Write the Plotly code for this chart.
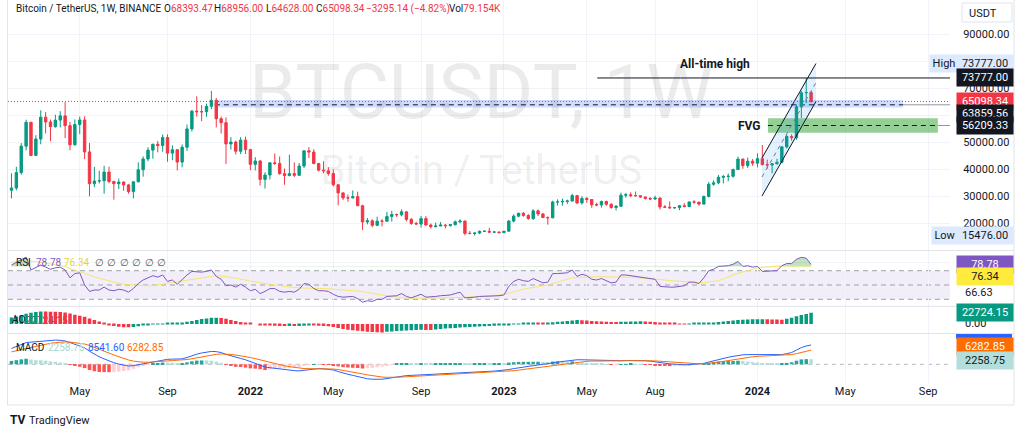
import pandas as pd
import plotly.graph_objects as go

W, H = 1024, 434

# ---------------- data (weekly BTCUSDT, week starts) ----------------
start_week = "2021-01-25"
first_open = 32259.0
closes = [33092, 38795, 48577, 57408, 45135, 51206, 59302, 57523, 55776, 58200,
          59770, 56150, 49066, 56578, 58250, 46430, 34700, 35680, 35800, 39000,
          35500, 34700, 35290, 34250, 31780, 35400, 39850, 43830, 47100, 49300,
          48800, 51750, 46000, 47250, 42700, 48200, 54950, 61500, 61300, 61300,
          63300, 65500, 58700, 57250, 49400, 50100, 46700, 50800, 47300, 41850,
          43080, 36280, 37900, 42400, 42200, 38400, 37700, 38400, 37800, 41250,
          46850, 46400, 42150, 39700, 39450, 38450, 34300, 31300, 29450, 29450,
          29900, 26550, 20550, 21000, 19300, 20850, 20800, 22600, 23300, 23200,
          24300, 21500, 20000, 19800, 21800, 19400, 18800, 19050, 19400, 19200,
          19550, 20600, 20900, 16350, 16280, 16450, 17100, 17100, 16800, 16850,
          16600, 17130, 20880, 22700, 23750, 22950, 21800, 24650, 23500, 22200,
          22100, 27950, 27950, 28150, 28300, 30300, 27600, 29250, 28850, 26900,
          26850, 28100, 27100, 25900, 26350, 30450, 30600, 30300, 30250, 29800,
          29250, 29050, 29400, 26100, 26000, 25800, 25850, 26550, 26250, 27950,
          27900, 27150, 29950, 34500, 35000, 37050, 37350, 37450, 39950, 43800,
          41350, 43000, 42280, 43950, 41750, 41600, 42050, 42600, 48300, 52150,
          51700, 63100, 68300, 68393.47, 65098.34]
highs = [38531, 40955, 49707, 58352, 57533, 52640, 61844, 61180, 58402, 60200,
         61500, 64854, 57520, 58458, 59500, 59600, 49780, 40900, 39480, 41330,
         41000, 35800, 36600, 35600, 34600, 35400, 42600, 44800, 48150, 49400,
         50500, 52900, 52950, 48850, 47350, 49200, 56600, 62000, 67000, 63700,
         64300, 69000, 66400, 59500, 59200, 51900, 50600, 51900, 52100, 47550,
         44500, 43500, 38900, 42650, 45850, 44750, 40300, 45400, 42600, 42350,
         46900, 48200, 47450, 42400, 42950, 40800, 40000, 34500, 31500, 30650,
         32200, 31750, 26900, 22000, 21550, 22500, 21600, 24250, 24650, 23650,
         25200, 24450, 22000, 20600, 22800, 22700, 19950, 20350, 20500, 19700,
         19700, 21100, 21500, 21000, 17200, 16800, 17400, 17400, 18400, 17000,
         16950, 17200, 21300, 23350, 23950, 24250, 23450, 25250, 25150, 23900,
         22600, 28400, 28900, 29200, 28800, 31000, 30450, 30050, 29800, 28900,
         27650, 28450, 28450, 27450, 26800, 31400, 31300, 31500, 31800, 30350,
         29800, 29750, 30250, 29650, 26800, 28150, 26100, 26850, 27500, 28050,
         28600, 27950, 30350, 35300, 35950, 37950, 38000, 38450, 40250, 44700,
         43900, 44350, 43800, 45900, 48950, 43600, 42200, 43900, 48600, 52800,
         52950, 64000, 69000, 73777, 68956]
lows = [29241, 32296, 37988, 47003, 44892, 45000, 49274, 53271, 50427, 55400,
        55473, 51541, 47044, 48800, 53000, 43825, 30000, 33400, 34800, 31000,
        34800, 28800, 32700, 32100, 31000, 29280, 35200, 37300, 43000, 43950,
        46300, 46500, 42800, 43400, 39600, 40750, 46900, 54000, 59500, 57800,
        59400, 62300, 55500, 53250, 42000, 47300, 45500, 45600, 45650, 39650,
        39600, 34000, 32900, 36250, 41650, 38000, 34300, 37450, 37150, 37550,
        40500, 44200, 41850, 39200, 38550, 37700, 33700, 26700, 28650, 28000,
        29300, 26500, 17600, 19650, 18600, 19000, 18900, 20750, 20700, 22400,
        22650, 20750, 19500, 19550, 18500, 19300, 18150, 18550, 19000, 18200,
        18850, 19250, 20050, 15600, 16000, 15500, 16000, 16900, 16550, 16400,
        16350, 16550, 17100, 20400, 22300, 22500, 21350, 21350, 22750, 21950,
        19550, 21900, 26600, 26550, 27200, 28200, 27150, 26950, 27650, 25800,
        26350, 25850, 26500, 25400, 24800, 26250, 29500, 29700, 29950, 29500,
        28850, 28600, 28700, 25150, 25800, 25350, 25350, 24900, 26000, 26000,
        27250, 26550, 27100, 29650, 33950, 34500, 34800, 35600, 36900, 39950,
        40200, 40550, 41300, 40750, 41500, 40300, 38550, 41800, 42250, 47700,
        50600, 50900, 59000, 64500, 64628]

rsi = [78, 82, 86, 89, 71, 75, 78, 75, 72, 74,
       75, 71, 60, 66, 67, 50, 41, 43, 43, 47,
       43, 42, 44, 43, 40, 45, 52, 57, 60, 63,
       61, 64, 55, 57, 51, 58, 64, 69, 68, 68,
       69, 71, 62, 58, 49, 50, 47, 51, 47, 42,
       44, 38, 41, 45, 45, 41, 40, 41, 40, 44,
       52, 51, 45, 42, 42, 41, 37, 34, 33, 33,
       34, 31, 26, 28, 27, 30, 30, 34, 35, 35,
       38, 34, 32, 35, 37, 33, 33, 34, 35, 35,
       36, 38, 40, 32, 32, 33, 34, 34, 34, 35,
       35, 36, 48, 55, 58, 56, 55, 59, 56, 53,
       54, 66, 66, 67, 67, 71, 62, 65, 63, 58,
       57, 59, 56, 53, 54, 64, 64, 63, 62, 61,
       59, 58, 58, 48, 47, 47, 47, 48, 49, 54,
       54, 52, 60, 70, 72, 76, 76, 77, 79, 83,
       76, 77, 75, 76, 69, 69, 69, 70, 77, 80,
       80, 86, 88.7, 87.5, 78.78]
rsi_ma = [82, 82.5, 83, 83.5, 83.5, 83, 82, 81, 80, 79,
          78, 76, 73, 70.5, 68.6, 66, 63.5, 61.5, 59.4, 57.5,
          55.5, 54, 52.5, 51, 50.5, 50, 49, 48.6, 48.8, 49.5,
          50, 51, 52.4, 53.5, 54.5, 55.5, 56.5, 58, 59, 60,
          61.5, 62.6, 63, 62.5, 62, 60.8, 59.5, 58, 56.5, 55,
          54, 53, 52, 51, 50, 49, 47.6, 47, 46.5, 46,
          46, 45.6, 45.4, 45.2, 45, 44.7, 44.2, 43.8, 43.5, 43.2,
          43, 42, 41, 39.5, 38, 37, 36, 35, 34, 33,
          32.2, 31.8, 31.4, 31.4, 31.5, 31.6, 31.7, 31.8, 31.9, 32,
          32.2, 32.4, 32.6, 32.8, 33, 33.2, 33.6, 34, 34.5, 35,
          36, 37, 38.5, 40.5, 42.5, 44, 45.4, 46.5, 47.8, 49,
          50, 52, 54, 56, 58, 60, 60.5, 61, 61.3, 61.5,
          61.6, 61.6, 61.6, 61.6, 61.6, 61.6, 61.2, 60.8, 60.4, 60,
          59.4, 58.8, 58.2, 57.5, 57, 56.2, 55.6, 55, 54.5, 54,
          53.6, 53.2, 53.5, 54, 54.6, 56, 58.5, 61.6, 64, 66.5,
          68.5, 70, 72, 73.5, 74.7, 75.3, 75.8, 76.2, 76.6, 76.6,
          76.5, 76.5, 76.4, 76.4, 76.34]

ao = [13000, 15000, 17500, 21000, 23000, 24500, 25500, 25300, 25000, 24600,
      24200, 23500, 21500, 18500, 16500, 14500, 11000, 8000, 5000, 1500,
      -2000, -4000, -5500, -6500, -6700, -6200, -4500, -3000, -1500, -500,
      200, 600, 1200, 2000, 2500, 3000, 4500, 6000, 8000, 10000,
      11400, 12500, 12700, 12000, 10500, 8000, 6000, 4000, 2500, 1000,
      0, -1500, -2500, -3000, -3500, -3800, -4200, -4000, -4200, -4000,
      -3500, -3000, -3200, -3500, -3800, -4300, -6000, -8000, -10000, -11500,
      -12500, -13500, -14800, -15500, -16000, -16800, -16900, -15800, -15000, -14300,
      -13600, -13000, -12500, -12000, -11600, -11900, -12100, -11000, -10000, -9200,
      -8500, -7800, -7200, -6700, -6200, -5700, -5200, -4700, -4200, -3700,
      -3200, -2600, -1800, -800, 400, 1500, 2300, 3000, 2600, 2400,
      3000, 3800, 4500, 5300, 6200, 7200, 8000, 7600, 7000, 6300,
      5700, 5200, 4800, 4300, 4100, 4400, 4800, 5100, 5300, 5400,
      5200, 4600, 4000, 3000, 2000, 1300, 900, 600, 500, 700,
      900, 1100, 1500, 2200, 3000, 4000, 5000, 6000, 7000, 8000,
      8800, 9300, 9600, 9800, 9900, 9600, 9200, 9000, 8900, 10500,
      12500, 15500, 18000, 20500, 22724.15]

macd = [7000, 7800, 8700, 9600, 9800, 10000, 10400, 10600, 10600, 10700,
        10600, 10300, 9600, 8900, 8300, 7300, 5800, 4500, 3300, 2400,
        1500, 700, 100, -400, -750, -600, -200, 300, 800, 1300,
        1700, 2100, 2200, 2300, 2200, 2400, 3000, 3800, 4500, 5000,
        5400, 5700, 5600, 5200, 4400, 3700, 3000, 2600, 2000, 1200,
        600, -200, -1200, -1500, -1800, -2100, -2400, -2600, -2800, -2900,
        -2600, -2200, -1900, -1900, -2000, -2200, -2500, -3200, -3900, -4400,
        -4900, -5400, -6100, -6400, -6600, -6700, -6600, -6300, -5900, -5600,
        -5200, -5000, -4900, -4800, -4600, -4600, -4600, -4500, -4400, -4300,
        -4100, -3900, -3700, -3700, -3700, -3600, -3500, -3300, -3200, -3000,
        -2800, -2700, -2300, -1900, -1500, -1200, -900, -600, -300, -100,
        100, 600, 1000, 1300, 1600, 2000, 2000, 2000, 1950, 1850,
        1750, 1700, 1600, 1500, 1500, 1600, 1700, 1750, 1750, 1700,
        1600, 1400, 1200, 800, 500, 200, 0, -150, -200, -150,
        -50, 100, 400, 1000, 1600, 2200, 2700, 3100, 3500, 4000,
        4200, 4300, 4300, 4300, 4200, 4100, 4000, 4000, 4300, 4700,
        5200, 6300, 7400, 8100, 8541.60]
signal = [5500, 5960, 6508, 7126, 7661, 8129, 8583, 8986, 9309, 9587,
          9790, 9892, 9834, 9647, 9378, 8962, 8330, 7564, 6711, 5849,
          4979, 4123, 3318, 2574, 1909, 1407, 1086, 929, 903, 982,
          1126, 1321, 1497, 1658, 1766, 1893, 2114, 2451, 2861, 3289,
          3711, 4109, 4407, 4566, 4533, 4366, 4093, 3794, 3435, 2988,
          2510, 1968, 1334, 767, 254, -217, -654, -1043, -1394, -1695,
          -1876, -1941, -1933, -1926, -1941, -1993, -2094, -2315, -2632, -2986,
          -3369, -3775, -4240, -4672, -5058, -5386, -5629, -5763, -5790, -5752,
          -5642, -5514, -5391, -5273, -5138, -5030, -4944, -4855, -4764, -4671,
          -4557, -4426, -4281, -4165, -4072, -3978, -3882, -3766, -3653, -3522,
          -3378, -3242, -3054, -2823, -2558, -2286, -2009, -1727, -1442, -1174,
          -919, -615, -292, 26, 341, 673, 938, 1150, 1310, 1418,
          1484, 1527, 1542, 1534, 1527, 1542, 1574, 1609, 1637, 1650,
          1640, 1592, 1514, 1371, 1197, 998, 798, 608, 446, 327,
          252, 222, 258, 406, 645, 956, 1305, 1664, 2031, 2425,
          2780, 3084, 3327, 3522, 3658, 3746, 3797, 3838, 3930, 4084,
          4307, 4706, 5245, 5816, 6282.85]

tick_dates = ["2021-05-03", "2021-09-06", "2022-01-03", "2022-05-02", "2022-09-05",
              "2023-01-02", "2023-05-01", "2023-08-07", "2024-01-01", "2024-05-06",
              "2024-09-02"]
tick_labels = ["May", "Sep", "<b>2022</b>", "May", "Sep", "<b>2023</b>", "May", "Aug",
               "<b>2024</b>", "May", "Sep"]
price_ticks = [20000, 30000, 40000, 50000, 60000, 70000, 80000, 90000]
price_tick_text = ["20000.00", "30000.00", "40000.00", "50000.00", "", "70000.00", "", "90000.00"]

# ---------------- derived ----------------
dates = pd.date_range(start_week, periods=len(closes), freq="7D")
opens = [first_open] + closes[:-1]
hist = [m - s for m, s in zip(macd, signal)]
UP, DN = "#089981", "#F23645"
ao_colors = [UP if i == 0 or ao[i] >= ao[i - 1] else DN for i in range(len(ao))]
hist_colors = []
for i, h in enumerate(hist):
    prev = hist[i - 1] if i else h
    if h >= 0:
        hist_colors.append("#26A69A" if h >= prev else "#B2DFDB")
    else:
        hist_colors.append("#FFCDD2" if h >= prev else "#FF5252")
rsi_top = [max(v, 76) for v in rsi]

FONT = "Roboto"
TXT = "#131722"
GRID = "#f0f3fa"

x_range = ["2021-01-20", "2024-10-03 10:00"]
XD0, XD1 = 8 / W, 950 / W


def pdy(ypx):
    return 1 - ypx / H


fig = go.Figure()

# channel drawing (behind candles)
ch_x = ["2024-01-07 12:00", "2024-03-25", "2024-03-25", "2024-01-07 12:00", "2024-01-07 12:00"]
ch_y = [30150, 65080, 79130, 44200, 30150]
fig.add_trace(go.Scatter(x=ch_x, y=ch_y, mode="lines", fill="toself",
                         fillcolor="rgba(33,150,243,0.13)", line=dict(width=0),
                         hoverinfo="skip", showlegend=False, xaxis="x", yaxis="y"))
fig.add_trace(go.Scatter(x=["2024-01-07 12:00", "2024-03-25"], y=[30150, 65080], mode="lines",
                         line=dict(color=TXT, width=1), showlegend=False, xaxis="x", yaxis="y"))
fig.add_trace(go.Scatter(x=["2024-01-07 12:00", "2024-03-25"], y=[44200, 79130], mode="lines",
                         line=dict(color=TXT, width=1), showlegend=False, xaxis="x", yaxis="y"))
fig.add_trace(go.Scatter(x=["2024-01-07 12:00", "2024-03-25"], y=[37170, 72100], mode="lines",
                         line=dict(color="#787b86", width=1, dash="4px,4px"), showlegend=False,
                         xaxis="x", yaxis="y"))

fig.add_trace(go.Candlestick(
    x=dates, open=opens, high=highs, low=lows, close=closes,
    increasing=dict(line=dict(color=UP, width=1), fillcolor=UP),
    decreasing=dict(line=dict(color=DN, width=1), fillcolor=DN),
    whiskerwidth=0, showlegend=False, xaxis="x", yaxis="y"))

# RSI pane
fig.add_trace(go.Scatter(x=dates, y=[76] * len(rsi), mode="lines", line=dict(width=0),
                         showlegend=False, hoverinfo="skip", xaxis="x", yaxis="y2"))
fig.add_trace(go.Scatter(x=dates, y=rsi_top, mode="lines", line=dict(width=0), fill="tonexty",
                         fillcolor="rgba(76,175,80,0.35)", showlegend=False, hoverinfo="skip",
                         xaxis="x", yaxis="y2"))
fig.add_trace(go.Scatter(x=dates, y=rsi_ma, mode="lines", line=dict(color="#F7E56B", width=1),
                         showlegend=False, xaxis="x", yaxis="y2"))
fig.add_trace(go.Scatter(x=dates, y=rsi, mode="lines", line=dict(color="#7E57C2", width=1),
                         showlegend=False, xaxis="x", yaxis="y2"))

# AO pane
fig.add_trace(go.Bar(x=dates, y=ao, marker=dict(color=ao_colors, line=dict(width=0)),
                     showlegend=False, xaxis="x", yaxis="y3"))

# MACD pane
fig.add_trace(go.Bar(x=dates, y=hist, marker=dict(color=hist_colors, line=dict(width=0)),
                     showlegend=False, xaxis="x", yaxis="y4"))
fig.add_trace(go.Scatter(x=dates, y=macd, mode="lines", line=dict(color="#2962FF", width=1),
                         showlegend=False, xaxis="x", yaxis="y4"))
fig.add_trace(go.Scatter(x=dates, y=signal, mode="lines", line=dict(color="#FF6D00", width=1),
                         showlegend=False, xaxis="x", yaxis="y4"))

shapes = []
# watermark
shapes.append(dict(type="rect", xref="x", yref="y", x0="2022-08-01", x1="2023-04-01", y0=62000, y1=79000,
                   line=dict(width=0), fillcolor="rgba(0,0,0,0)", layer="between",
                   label=dict(text="BTCUSDT, 1W", textposition="middle center",
                              font=dict(family=FONT, size=76, color="rgba(19,23,34,0.085)"))))
shapes.append(dict(type="rect", xref="x", yref="y", x0="2022-08-01", x1="2023-04-01", y0=36000, y1=45000,
                   line=dict(width=0), fillcolor="rgba(0,0,0,0)", layer="between",
                   label=dict(text="Bitcoin / TetherUS", textposition="middle center",
                              font=dict(family=FONT, size=40, color="rgba(19,23,34,0.085)"))))
# drawings
shapes.append(dict(type="rect", xref="x", yref="y", x0="2021-11-13", x1="2024-07-28", y0=62900, y1=65600,
                   fillcolor="rgba(41,98,255,0.22)", line=dict(width=0), layer="between"))
shapes.append(dict(type="line", xref="x", yref="y", x0="2021-11-13", x1="2024-07-28", y0=63859.56, y1=63859.56,
                   line=dict(color=TXT, width=1, dash="5px,4px"), layer="between"))
shapes.append(dict(type="line", xref="x", yref="y", x0="2024-07-28", x1=x_range[1], y0=63859.56, y1=63859.56,
                   line=dict(color="#9598a1", width=1), layer="between"))
shapes.append(dict(type="rect", xref="x", yref="y", x0="2024-01-16", x1="2024-09-16", y0=53550, y1=58870,
                   fillcolor="rgba(76,175,80,0.6)", line=dict(width=0), layer="between"))
shapes.append(dict(type="line", xref="x", yref="y", x0="2024-01-16", x1="2024-09-16", y0=56209.33, y1=56209.33,
                   line=dict(color=TXT, width=1, dash="5px,4px"), layer="between"))
shapes.append(dict(type="line", xref="x", yref="y", x0="2024-09-16", x1=x_range[1], y0=56209.33, y1=56209.33,
                   line=dict(color="#9598a1", width=1), layer="between"))
shapes.append(dict(type="line", xref="x", yref="y", x0="2023-05-16", x1=x_range[1], y0=73777, y1=73777,
                   line=dict(color=TXT, width=1)))
shapes.append(dict(type="line", xref="paper", yref="y", x0=XD0, x1=XD1, y0=closes[-1], y1=closes[-1],
                   line=dict(color=DN, width=1, dash="1px,2px")))
# RSI band and levels
shapes.append(dict(type="rect", xref="paper", yref="y2", x0=XD0, x1=XD1, y0=30, y1=70,
                   fillcolor="rgba(126,87,194,0.1)", line=dict(width=0), layer="below"))
for lv in (70, 50, 30):
    shapes.append(dict(type="line", xref="paper", yref="y2", x0=XD0, x1=XD1, y0=lv, y1=lv,
                       line=dict(color="#9ea1a9", width=1, dash="5px,4px"), layer="below"))
shapes.append(dict(type="line", xref="paper", yref="y4", x0=XD0, x1=XD1, y0=0, y1=0,
                   line=dict(color="#b8bbc2", width=1, dash="4px,4px"), layer="below"))
# AO legend value (behind bars)
shapes.append(dict(type="rect", xref="x", yref="y3", x0="2021-02-20", x1="2021-04-10", y0=6000, y1=14000,
                   line=dict(width=0), fillcolor="rgba(0,0,0,0)", layer="between",
                   label=dict(text="22724.15", textposition="middle center",
                              font=dict(family=FONT, size=10, color="#8a1c26"))))
# pane separators & borders
for ypx in (250.5, 306.3, 333.5):
    shapes.append(dict(type="line", xref="paper", yref="paper", x0=7.5 / W, x1=1014 / W,
                       y0=pdy(ypx), y1=pdy(ypx), line=dict(color="#e0e3eb", width=1)))
shapes.append(dict(type="line", xref="paper", yref="paper", x0=7.5 / W, x1=7.5 / W, y0=pdy(0), y1=pdy(405),
                   line=dict(color="#e0e3eb", width=1)))
shapes.append(dict(type="line", xref="paper", yref="paper", x0=1014 / W, x1=1014 / W, y0=pdy(0), y1=pdy(405),
                   line=dict(color="#e0e3eb", width=1)))
shapes.append(dict(type="line", xref="paper", yref="paper", x0=7.5 / W, x1=1014 / W, y0=pdy(405), y1=pdy(405),
                   line=dict(color="#e0e3eb", width=1)))
# USDT box
shapes.append(dict(type="rect", xref="paper", yref="paper", x0=962 / W, x1=1012 / W, y0=pdy(22), y1=pdy(3),
                   line=dict(color="#e0e3eb", width=1), fillcolor="white"))
# cut MACD badge at top of pane
shapes.append(dict(type="rect", xref="paper", yref="paper", x0=956 / W, x1=1012 / W, y0=pdy(339), y1=pdy(334),
                   line=dict(width=0), fillcolor="#2962FF"))

ann = []


def badge(text, yval, yref, bg, fg="#ffffff", yshift=0, x0px=956, wpx=52):
    ann.append(dict(text=text, x=x0px / W, xref="paper", xanchor="left", y=yval, yref=yref,
                    yanchor="middle", yshift=yshift, showarrow=False, bgcolor=bg, width=wpx,
                    borderpad=2, align="center", font=dict(family=FONT, size=11, color=fg)))


def label(text, xpx, ypx, size=11, color=TXT, anchor="left"):
    ann.append(dict(text=text, x=xpx / W, y=pdy(ypx), xref="paper", yref="paper", xanchor=anchor,
                    yanchor="middle", showarrow=False, font=dict(family=FONT, size=size, color=color)))


LB = "#dde9fc"
label("66.63", 963, 292)
label("0.00", 963, 323)
badge("High", 73777, "y", LB, TXT, yshift=14, x0px=929, wpx=24)
badge("73777.00", 73777, "y", LB, TXT, yshift=14)
badge("73777.00", 73777, "y", "#131722")
badge("65098.34", closes[-1], "y", DN)
badge("63859.56", 63859.56, "y", "#131722", yshift=-9)
badge("56209.33", 56209.33, "y", "#131722")
badge("Low", 15476, "y", LB, TXT, x0px=931, wpx=22)
badge("15476.00", 15476, "y", LB, TXT)
badge(f"{rsi[-1]:.2f}", rsi[-1], "y2", "#7E57C2")
badge(f"{rsi_ma[-1]:.2f}", rsi_ma[-1], "y2", "#FFEB3B", TXT, yshift=-10)
badge(f"{ao[-1]:.2f}", ao[-1], "y3", UP)
badge(f"{signal[-1]:.2f}", signal[-1], "y4", "#FF6D00", yshift=4)
badge(f"{hist[-1]:.2f}", hist[-1], "y4", "#B2DFDB", TXT, yshift=-1.5)
label("USDT", 967, 13)

# header
RED = DN
label("Bitcoin / TetherUS, 1W, BINANCE", 14, 9, size=10)
label(f"O<span style='color:{RED}'>68393.47</span>", 162, 9, size=10)
label(f"H<span style='color:{RED}'>68956.00</span>", 212, 9, size=10)
label(f"L<span style='color:{RED}'>64628.00</span>", 264, 9, size=10)
label(f"C<span style='color:{RED}'>65098.34</span>", 314, 9, size=10)
label("−3295.14 (−4.82%)", 364, 9, size=10, color=RED)
label(f"Vol<span style='color:{RED}'>79.154K</span>", 447, 9, size=10)

# pane legends
label("RSI", 14, 262, size=10)
label(f"{rsi[-1]:.2f}", 34, 262, size=10, color="#7E57C2")
label(f"{rsi_ma[-1]:.2f}", 62, 262, size=10, color="#E8D43A")
for k in range(6):
    label("∅", 93 + k * 12.4, 262, size=10, color="#555a66")
label("AO", 10, 319, size=10)
label("MACD", 14, 347, size=10)
label(f"{hist[-1]:.2f}", 46, 347, size=10, color="#A5D6D0")
label(f"{macd[-1]:.2f}", 86, 347, size=10, color="#2962FF")
label(f"{signal[-1]:.2f}", 125, 347, size=10, color="#FF6D00")

# drawing texts
ann.append(dict(text="<b>All-time high</b>", x="2023-11-01", y=78950, xref="x", yref="y", showarrow=False,
                font=dict(family=FONT, size=12, color=TXT)))
ann.append(dict(text="<b>FVG</b>", x="2023-12-20", y=56100, xref="x", yref="y", showarrow=False,
                font=dict(family=FONT, size=12, color=TXT)))

# TradingView logo
label("<b>TV</b>", 8, 420, size=12)
label("TradingView", 27, 420, size=11)

fig.update_layout(
    width=W, height=H, margin=dict(l=0, r=0, t=0, b=0),
    paper_bgcolor="white", plot_bgcolor="white",
    showlegend=False, bargap=0.28, hovermode=False,
    font=dict(family=FONT, size=11, color=TXT),
    xaxis=dict(type="date", domain=[XD0, XD1], range=x_range, anchor="y4",
               tickmode="array", tickvals=tick_dates, ticktext=tick_labels,
               showgrid=True, gridcolor=GRID, gridwidth=1, zeroline=False, showline=False,
               ticks="", tickfont=dict(family=FONT, size=11, color=TXT),
               rangeslider=dict(visible=False)),
    yaxis=dict(domain=[pdy(250.5), 1.0], range=[10000, 102600], side="right", anchor="x",
               tickmode="array", tickvals=price_ticks, ticktext=price_tick_text,
               showgrid=True, gridcolor=GRID, zeroline=False, showline=False,
               ticks="outside", ticklen=10, tickcolor="rgba(0,0,0,0)",
               tickfont=dict(family=FONT, size=11, color=TXT)),
    yaxis2=dict(domain=[pdy(306), pdy(251)], range=[20.63, 97.55], side="right", anchor="x",
                tickmode="array", tickvals=[81.2], showticklabels=False, showgrid=True,
                gridcolor=GRID, zeroline=False, showline=False),
    yaxis3=dict(domain=[pdy(333), pdy(306.6)], range=[-18100, 35200], side="right", anchor="x",
                showticklabels=False, showgrid=False, zeroline=False, showline=False),
    yaxis4=dict(domain=[pdy(383), pdy(334)], range=[-8265, 13400], side="right", anchor="x",
                showticklabels=False, showgrid=False, zeroline=False, showline=False),
    shapes=shapes, annotations=ann,
)

fig.write_html("out.html", config={"displayModeBar": False})
